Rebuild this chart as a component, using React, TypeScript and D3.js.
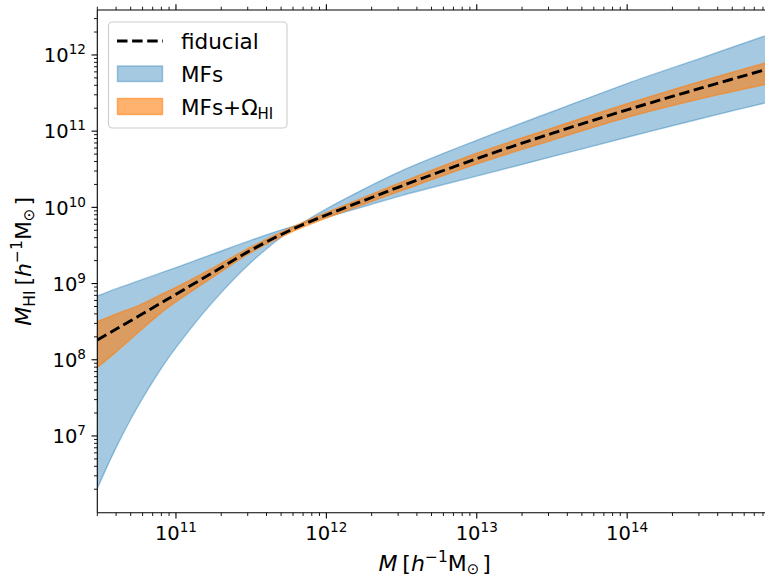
import React from 'react';
import * as d3 from 'd3';

// log10 of halo mass M [h^-1 Msun]
const logM = [10.477, 10.6, 10.75, 10.9, 11.0, 11.25, 11.5, 11.75, 12.0, 12.25, 12.5, 13.0, 13.5, 14.0, 14.5, 14.96];
// log10 of M_HI for the fiducial model
const fiducialLog = [8.26, 8.40, 8.57, 8.745, 8.86, 9.15, 9.44, 9.69, 9.90, 10.09, 10.28, 10.64, 10.97, 11.28, 11.57, 11.83];
// MFs band (blue), two edges
const mfsEdgeA = [8.837, 8.93, 9.035, 9.14, 9.21, 9.39, 9.57, 9.735, 9.87, 10.01, 10.155, 10.41, 10.665, 10.92, 11.17, 11.39];
const mfsEdgeB = [6.31, 6.84, 7.40, 7.88, 8.16, 8.77, 9.28, 9.68, 9.98, 10.24, 10.48, 10.88, 11.255, 11.625, 11.965, 12.28];
// MFs + Omega_HI band (orange)
const omegaUpper = [8.50, 8.60, 8.71, 8.855, 8.95, 9.21, 9.48, 9.72, 9.93, 10.13, 10.33, 10.71, 11.04, 11.36, 11.66, 11.92];
const omegaLower = [7.90, 8.10, 8.36, 8.615, 8.76, 9.09, 9.41, 9.66, 9.86, 10.04, 10.22, 10.57, 10.88, 11.18, 11.43, 11.63];

const xMajor = [1e11, 1e12, 1e13, 1e14, 1e15];
const xMajorExp = ['11', '12', '13', '14', '15'];
const yMajor = [1e7, 1e8, 1e9, 1e10, 1e11, 1e12];
const yMajorExp = ['7', '8', '9', '10', '11', '12'];
const legendLabels = ['fiducial', 'MFs', 'MFs+Ω'];

const W = 765, H = 579;
const L = 97.3, R = 772, T = 10, B = 512.7;
const C0 = '#1f77b4', C1 = '#ff7f0e';
const FONT = 'DejaVu Sans, sans-serif';

export default function App() {
  const x = d3.scaleLog().domain([Math.pow(10, 10.477), Math.pow(10, 14.963)]).range([L, R]);
  const y = d3.scaleLog().domain([Math.pow(10, 5.993), Math.pow(10, 12.59)]).range([B, T]);

  const pts = logM.map((m, i) => ({
    m: Math.pow(10, m),
    f: Math.pow(10, fiducialLog[i]),
    a: Math.pow(10, mfsEdgeA[i]),
    b: Math.pow(10, mfsEdgeB[i]),
    ou: Math.pow(10, omegaUpper[i]),
    ol: Math.pow(10, omegaLower[i]),
  }));

  const curve = d3.curveCatmullRom.alpha(0.5);
  const areaAB = d3.area<any>().x(d => x(d.m)).y0(d => y(d.b)).y1(d => y(d.a)).curve(curve);
  const areaO = d3.area<any>().x(d => x(d.m)).y0(d => y(d.ol)).y1(d => y(d.ou)).curve(curve);
  const lineF = d3.line<any>().x(d => x(d.m)).y(d => y(d.f)).curve(curve);

  const xMinor: number[] = [];
  for (let e = 10; e <= 14; e++) for (let k = 2; k <= 9; k++) {
    const v = k * Math.pow(10, e);
    if (v >= x.domain()[0] && v <= x.domain()[1]) xMinor.push(v);
  }
  const yMinor: number[] = [];
  for (let e = 5; e <= 12; e++) for (let k = 2; k <= 9; k++) {
    const v = k * Math.pow(10, e);
    if (v >= y.domain()[0] && v <= y.domain()[1]) yMinor.push(v);
  }

  const tickFs = 19.5;
  const supFs = 13.6;

  return (
    <svg width={W} height={H} style={{ position: 'absolute', left: 0, top: 0, background: '#fff' }} fontFamily={FONT}>
      <defs>
        <clipPath id="plot"><rect x={L} y={T} width={R - L} height={B - T} /></clipPath>
      </defs>
      <rect x={0} y={0} width={W} height={H} fill="#fff" />
      <g clipPath="url(#plot)">
        <path d={areaAB(pts) || ''} fill={C0} fillOpacity={0.4} stroke={C0} strokeOpacity={0.4} strokeWidth={1.4} />
        <path d={areaO(pts) || ''} fill={C1} fillOpacity={0.6} stroke={C1} strokeOpacity={0.6} strokeWidth={1.4} />
        <path d={lineF(pts) || ''} fill="none" stroke="#000" strokeWidth={2.9} strokeDasharray="10.5 4.6" />
      </g>
      {/* spines */}
      <g stroke="#000" strokeWidth={1.1} fill="none">
        <line x1={L} y1={T} x2={L} y2={B} />
        <line x1={L} y1={B} x2={R} y2={B} />
        <line x1={L} y1={T} x2={R} y2={T} />
        <line x1={R} y1={T} x2={R} y2={B} />
      </g>
      {/* x ticks bottom & top */}
      <g stroke="#000" strokeWidth={1.1}>
        {xMajor.filter(v => x(v) <= R).map((v, i) => (
          <g key={'xM' + i}>
            <line x1={x(v)} x2={x(v)} y1={B} y2={B + 5.8} />
            <line x1={x(v)} x2={x(v)} y1={T} y2={T - 5.8} />
          </g>
        ))}
        {xMinor.map((v, i) => (
          <g key={'xm' + i}>
            <line x1={x(v)} x2={x(v)} y1={B} y2={B + 3.3} strokeWidth={0.9} />
            <line x1={x(v)} x2={x(v)} y1={T} y2={T - 3.3} strokeWidth={0.9} />
          </g>
        ))}
        {yMajor.map((v, i) => (
          <line key={'yM' + i} x1={L} x2={L - 5.8} y1={y(v)} y2={y(v)} />
        ))}
        {yMinor.map((v, i) => (
          <line key={'ym' + i} x1={L} x2={L - 3.3} y1={y(v)} y2={y(v)} strokeWidth={0.9} />
        ))}
      </g>
      {/* x tick labels */}
      {xMajor.filter(v => x(v) <= R).map((v, i) => (
        <text key={'xl' + i} x={x(v)} y={540} textAnchor="middle" fontSize={tickFs} fill="#000">
          10<tspan dy={-8} fontSize={supFs}>{xMajorExp[i]}</tspan>
        </text>
      ))}
      {/* y tick labels */}
      {yMajor.map((v, i) => (
        <text key={'yl' + i} x={86} y={y(v) + 7.2} textAnchor="end" fontSize={tickFs} fill="#000">
          10<tspan dy={-8} fontSize={supFs}>{yMajorExp[i]}</tspan>
        </text>
      ))}
      {/* axis labels */}
      <text x={(L + R) / 2} y={571} textAnchor="middle" fontSize={22} fill="#000">
        <tspan fontStyle="italic">M</tspan>
        <tspan dx={5}>[</tspan>
        <tspan fontStyle="italic">h</tspan>
        <tspan dy={-9} fontSize={15.5}>−1</tspan>
        <tspan dy={9}>M</tspan>
        <tspan dy={3} fontSize={15}>⊙</tspan>
        <tspan dy={-3} dx={3}>]</tspan>
      </text>
      <text transform={`translate(31, ${(T + B) / 2}) rotate(-90)`} textAnchor="middle" fontSize={22} fill="#000">
        <tspan fontStyle="italic">M</tspan>
        <tspan dy={4} fontSize={15.5}>HI</tspan>
        <tspan dy={-4} dx={5}>[</tspan>
        <tspan fontStyle="italic">h</tspan>
        <tspan dy={-9} fontSize={15.5}>−1</tspan>
        <tspan dy={9}>M</tspan>
        <tspan dy={3} fontSize={15}>⊙</tspan>
        <tspan dy={-3} dx={3}>]</tspan>
      </text>
      {/* legend */}
      <g>
        <rect x={108.5} y={22} width={178.5} height={106} rx={4} fill="#fff" fillOpacity={0.8} stroke="#cccccc" strokeWidth={1.1} />
        <line x1={117} x2={163} y1={41} y2={41} stroke="#000" strokeWidth={2.9} strokeDasharray="10.5 4.6" />
        <rect x={117.5} y={66} width={45} height={15.5} fill={C0} fillOpacity={0.4} stroke={C0} strokeOpacity={0.4} strokeWidth={1.4} />
        <rect x={117.5} y={98.5} width={45} height={16} fill={C1} fillOpacity={0.6} stroke={C1} strokeOpacity={0.6} strokeWidth={1.4} />
        <text x={181} y={48.5} fontSize={21.5} fill="#000">{legendLabels[0]}</text>
        <text x={181} y={81.5} fontSize={21.5} fill="#000">{legendLabels[1]}</text>
        <text x={181} y={114.5} fontSize={21.5} fill="#000">
          {legendLabels[2]}<tspan dy={4.5} fontSize={15}>HI</tspan>
        </text>
      </g>
    </svg>
  );
}
